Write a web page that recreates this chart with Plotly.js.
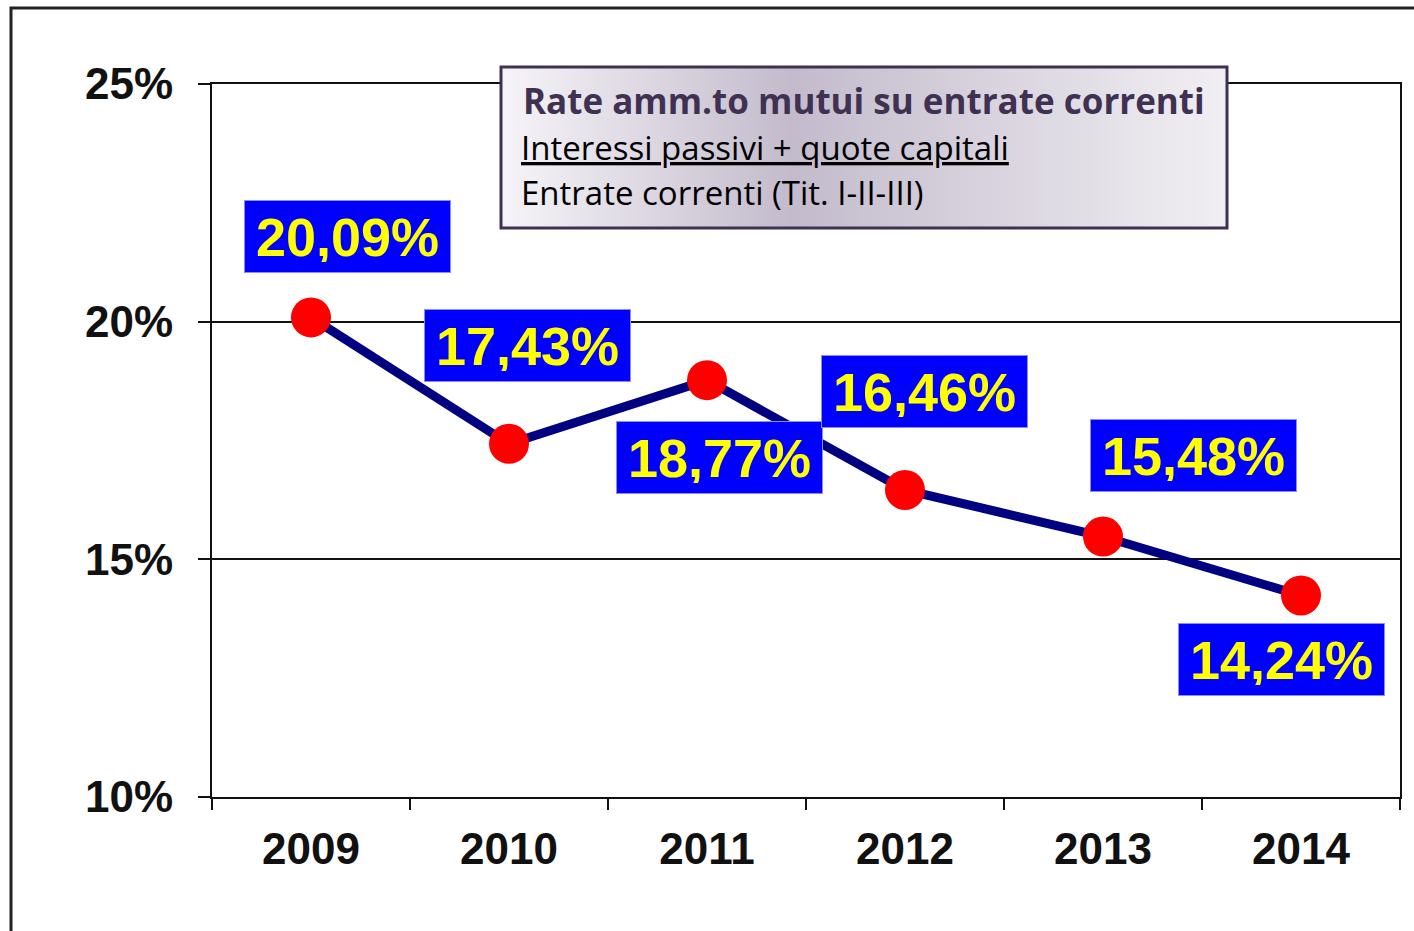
<!DOCTYPE html>
<html>
<head>
<meta charset="utf-8">
<script src="https://cdn.plot.ly/plotly-3.0.1.min.js"></script>
<style>html,body{margin:0;padding:0;background:#fff;}#chart{width:1414px;height:931px;}</style>
</head>
<body>
<div id="chart"></div>
<script>
// ---- data ----
var years = ['2009', '2010', '2011', '2012', '2013', '2014'];
var ratePct = [20.09, 17.43, 18.77, 16.46, 15.48, 14.24];
var yTickVals = [10, 15, 20, 25];
var yTickText = ['10%', '15%', '20%', '25%'];
var titleLine1 = 'Rate amm.to mutui su entrate correnti';
var titleLine2 = 'Interessi passivi + quote capitali';
var titleLine3 = 'Entrate correnti (Tit. I-II-III)';

// ---- layout helpers (pixel -> paper) ----
var W = 1414, H = 931, ML = 212, MR = 14, MT = 50, MB = 134;
var PW = W - ML - MR, PH = H - MT - MB;
function px(x) { return (x - ML) / PW; }
function py(y) { return (H - MB - y) / PH; }

// label offsets in pixels (xshift, yshift) relative to each point
var labelShift = [[36, 81], [18, 98], [12, -77], [19, 98], [90, 81], [-20, -64]];

var annotations = ratePct.map(function (v, i) {
  return {
    x: i, y: v, xref: 'x', yref: 'y',
    text: '<b>' + v.toFixed(2).replace('.', ',') + '%</b>',
    showarrow: false,
    xshift: labelShift[i][0], yshift: labelShift[i][1],
    font: {family: 'Liberation Sans, Arial, sans-serif', size: 54, color: '#ffff00'},
    bgcolor: '#0000ff', bordercolor: '#8c8cff', borderwidth: 1, borderpad: 10,
    width: 185, height: 51, align: 'center', valign: 'middle'
  };
});

annotations.push({
  xref: 'paper', yref: 'paper', x: px(521), y: py(101), xanchor: 'left', yanchor: 'middle',
  text: '<b>' + titleLine1 + '</b>', showarrow: false,
  font: {family: 'Open Sans, sans-serif', size: 35, color: '#403152'}
});
annotations.push({
  xref: 'paper', yref: 'paper', x: px(519), y: py(148), xanchor: 'left', yanchor: 'middle',
  text: '<u>' + titleLine2 + '</u>', showarrow: false,
  font: {family: 'Open Sans, sans-serif', size: 33, color: '#000000'}
});
annotations.push({
  xref: 'paper', yref: 'paper', x: px(519), y: py(192), xanchor: 'left', yanchor: 'middle',
  text: titleLine3, showarrow: false,
  font: {family: 'Open Sans, sans-serif', size: 33, color: '#000000'}
});

var traces = [
  {
    type: 'scatter', mode: 'lines', xaxis: 'x2', yaxis: 'y2',
    x: [0, 1, 1, 0, 0], y: [0, 0, 1, 1, 0],
    fill: 'toself',
    fillgradient: {type: 'horizontal', colorscale: [[0, '#f6f4f8'], [0.4, '#c3bbcc'], [1, '#f1eff3']]},
    line: {width: 0, color: 'rgba(0,0,0,0)'},
    hoverinfo: 'skip', showlegend: false
  },
  {
    type: 'scatter', mode: 'lines+markers',
    x: years, y: ratePct,
    line: {color: '#000080', width: 9},
    marker: {color: '#ff0000', size: 40},
    showlegend: false, cliponaxis: false
  }
];

var layout = {
  width: W, height: H,
  margin: {l: ML, r: MR, t: MT, b: MB, pad: 0},
  paper_bgcolor: '#ffffff', plot_bgcolor: '#ffffff',
  showlegend: false,
  xaxis: {
    type: 'category', range: [-0.5, 5.5], domain: [0, 1],
    showline: true, linecolor: '#111', linewidth: 2, mirror: true,
    ticks: 'outside', tickson: 'boundaries', ticklen: 11, tickwidth: 2, tickcolor: '#111',
    showgrid: false, zeroline: false,
    tickfont: {family: 'Liberation Sans, Arial, sans-serif', size: 44, color: '#111', weight: 'bold'},
    ticklabelstandoff: 12
  },
  yaxis: {
    range: [10, 25], domain: [0, (H - MB - 84) / PH],
    tickvals: yTickVals, ticktext: yTickText,
    showline: true, linecolor: '#111', linewidth: 2, mirror: true,
    ticks: 'outside', ticklen: 12, tickwidth: 2, tickcolor: '#111',
    showgrid: true, gridcolor: '#111', gridwidth: 2, zeroline: false,
    tickfont: {family: 'Liberation Sans, Arial, sans-serif', size: 44, color: '#111', weight: 'bold'},
    ticklabelstandoff: 16
  },
  xaxis2: {domain: [px(501), px(1227)], range: [0, 1], anchor: 'y2', visible: false, fixedrange: true},
  yaxis2: {domain: [py(228), py(67)], range: [0, 1], anchor: 'x2', visible: false, fixedrange: true},
  shapes: [
    {type: 'rect', xref: 'paper', yref: 'paper', x0: px(501), x1: px(1227), y0: py(228), y1: py(67),
      line: {color: '#3f3151', width: 3}, fillcolor: 'rgba(0,0,0,0)', layer: 'above'},
    {type: 'rect', xref: 'paper', yref: 'paper', x0: px(11), x1: px(1425), y0: py(945), y1: py(8),
      line: {color: '#222', width: 3}, fillcolor: 'rgba(0,0,0,0)', layer: 'below'}
  ],
  annotations: annotations
};

Plotly.newPlot('chart', traces, layout, {staticPlot: true, displayModeBar: false});
</script>
</body>
</html>
